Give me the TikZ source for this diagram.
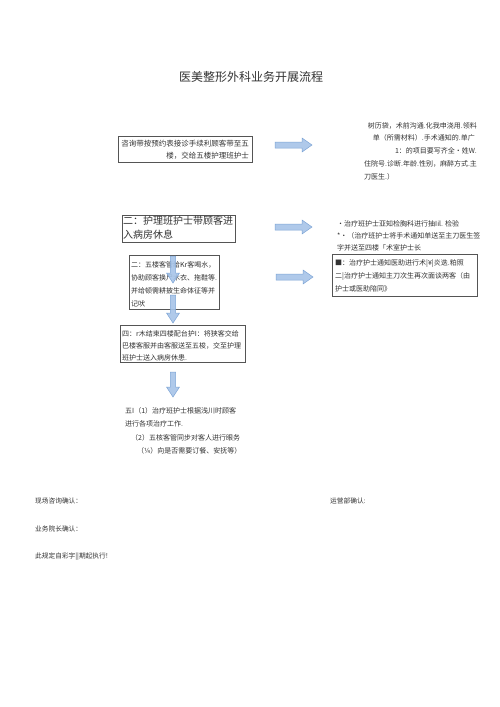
\documentclass[tikz,border=0pt]{standalone}
\usepackage{fontspec}
\setmainfont{Noto Sans CJK SC}
\definecolor{txt}{HTML}{333333}
\definecolor{afill}{HTML}{A7C4E8}
\definecolor{aline}{HTML}{7EA5D6}
\definecolor{bline}{HTML}{555555}
\tikzset{
  tl/.style={inner sep=0pt, anchor=west, text=txt, font=\fontsize{7}{8}\selectfont, text height=0.8em, text depth=0.2em},
  tr/.style={tl, anchor=east},
  boxn/.style={draw=bline, line width=0.6pt, inner sep=0pt},
  barrow/.style={draw=aline, fill=afill, line width=0.5pt, fill opacity=0.9},
  rarr/.pic={\path[barrow] (0,-3) -- (27,-3) -- (27,-7) -- (37,0) -- (27,7) -- (27,3) -- (0,3) -- cycle;},
  darr/.pic={\path[barrow] (-2.7,0) -- (-2.7,#1) -- (-6.5,#1) -- (0,#1+10) -- (6.5,#1) -- (2.7,#1) -- (2.7,0) -- cycle;},
}
\begin{document}
\begin{tikzpicture}[x=1pt,y=-1pt]
\useasboundingbox[fill=white] (0,0) rectangle (500,707);
% title
\node[text=txt, inner sep=0pt, font=\fontsize{12}{14}\selectfont] (title) at (251,77) {医美整形外科业务开展流程};
% boxes
\node[boxn, minimum width=134pt, minimum height=26pt] (b1) at (185,149) {};
\node[boxn, minimum width=113pt, minimum height=27pt] (b2) at (178.5,228.5) {};
\node[boxn, minimum width=90pt, minimum height=54pt] (b3) at (174,282) {};
\node[boxn, minimum width=125pt, minimum height=37pt] (b4) at (182.5,343.5) {};
\node[boxn, minimum width=145pt, minimum height=42pt] (br) at (404.5,275) {};
% box1 text
\node[tr, font=\fontsize{7.5}{9}\selectfont] (b1a) at (249,143) {咨询带按预约表接诊手续利顾客带至五};
\node[tr, font=\fontsize{7.5}{9}\selectfont] (b1b) at (249,155) {楼，交给五楼护理班护士};
% right block 1
\node[tr] (r1a) at (477,125) {树历袋，术前沟通.化我申浇用.领料};
\node[tr] (r1b) at (475,137) {单（所需材料）.手术通知的.单广};
\node[tr] (r1c) at (477,150) {1：的项目要写齐全•姓W.};
\node[tl] (r1d) at (364,163) {住院号.诊断.年龄.性别，麻醉方式.主};
\node[tl] (r1e) at (364,176) {刀医生.）};
% box2 text
\node[tl, font=\fontsize{10}{12}\selectfont] (b2a) at (123,221) {二：护理班护士带顾客进};
\node[tl, font=\fontsize{10}{12}\selectfont] (b2b) at (123,235) {入病房休息};
% right block 2
\node[tl] (r2a) at (337,223) {•治疗班护士亚知检胸科进行抽Iil. 检验};
\node[tl] (r2b) at (337,235) {*•（治疗班护士将手术通知单送至主刀医生签};
\node[tl] (r2c) at (337,247) {字并送至四楼「术室护士长};
\node[tl] (rba) at (335,262) {■：治疗护士通知医助进行术|¥|炎迭.粕照};
\node[tl] (rbb) at (335,275) {二|治疗护士通知主刀次生再次面谈两客（由};
\node[tl] (rbc) at (335,288) {护士或医助陪同》};
% box3 text
\node[tl] (b3a) at (131,264) {二：五楼客管给Kr客喝水，};
\node[tl] (b3b) at (131,277) {协助顾客换尸木衣、拖鞋等.};
\node[tl] (b3c) at (131,290) {并给顿需耕披生命体征等并};
\node[tl] (b3d) at (131,303) {记吠};
% box4 text
\node[tl] (b4a) at (122,333) {四：r木结束四楼配台护I：将狭客交给};
\node[tl] (b4b) at (122,345) {巴楼客服并由客服送至五梭，交至护理};
\node[tl] (b4c) at (122,357) {班护士送入病房休患.};
% step five text
\node[tl] (s5a) at (125,410) {五I（1）治疗班护士根据浅川时顾客};
\node[tl] (s5b) at (125,423) {进行各项治疗工作.};
\node[tl] (s5c) at (131,437) {（2）五核客管同步对客人进行眼务};
\node[tl] (s5d) at (137,450) {（¼）向是否需要订餐、安抚等）};
% footer
\node[tl, font=\fontsize{6.7}{8}\selectfont] (f1) at (35,500) {现场咨询确认：};
\node[tl, font=\fontsize{6.7}{8}\selectfont] (f2) at (330,500) {运营部确认:};
\node[tl, font=\fontsize{6.7}{8}\selectfont] (f3) at (35,528) {业务院长确认：};
\node[tl, font=\fontsize{6.7}{8}\selectfont] (f4) at (35,555) {此规定自彩字||期起执行!};
% arrows
\pic at (275,145) {rarr};
\pic at (275,227) {rarr};
\pic at (276,277) {rarr};
\pic at (173,256) {darr=17};
\pic at (173,295) {darr=18};
\pic at (173,372) {darr=15};
\end{tikzpicture}
\end{document}
